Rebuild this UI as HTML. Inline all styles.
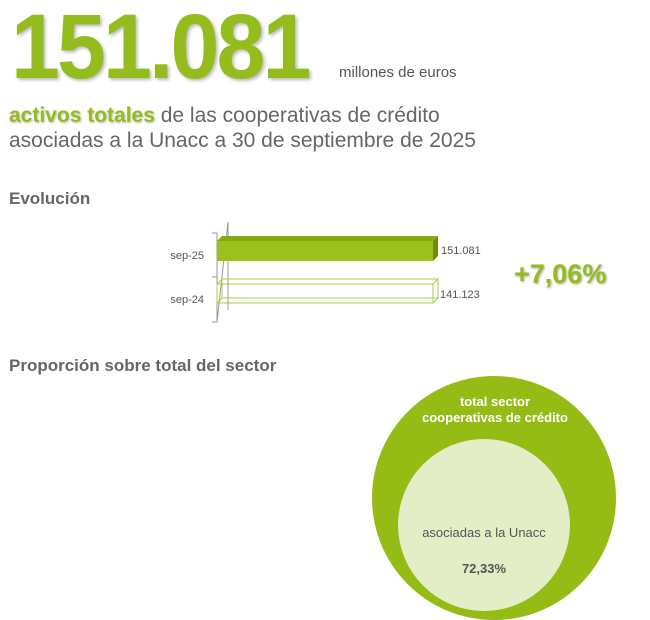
<!DOCTYPE html><html><head><meta charset="utf-8"><style>
body{margin:0;width:650px;height:620px;background:#fff;font-family:"Liberation Sans",sans-serif;position:relative;overflow:hidden}
.a{position:absolute;white-space:nowrap}
</style></head><body>
<div class="a" style="left:11px;top:-5px;font-size:92px;font-weight:bold;color:#93bc1c;letter-spacing:-3px;transform:scaleX(0.955);transform-origin:left;text-shadow:2px 2px 3px #bbb">151.081</div>
<div class="a" style="left:339px;top:64px;font-size:15px;color:#555">millones de euros</div>
<div class="a" style="left:9px;top:103px;font-size:21px;color:#666;line-height:25px"><b style="color:#93bc1c;text-shadow:1px 1px 2px #bbb">activos totales</b> de las cooperativas de crédito<br>asociadas a la Unacc a 30 de septiembre de 2025</div>
<div class="a" style="left:9px;top:189px;font-size:17px;font-weight:bold;color:#666">Evolución</div>
<div class="a" style="left:9px;top:356px;font-size:17px;font-weight:bold;color:#666">Proporción sobre total del sector</div>
<svg class="a" style="left:0;top:0" width="650" height="620">
<g stroke="#999" fill="none" stroke-width="1"><polyline points="212,233 217,233 217,322 212,322"/><line x1="217" y1="322" x2="228" y2="222"/><line x1="228" y1="222" x2="228" y2="310"/><line x1="212" y1="277" x2="217" y2="277"/></g>
<polygon points="217,241 222,236 438,236 433,241" fill="#86a812"/>
<polygon points="433,241 438,236 438,256 433,261" fill="#6f8c0c"/>
<rect x="217" y="241" width="216" height="20" fill="#9bc11c"/>
<g stroke="#a8cc4a" fill="none" stroke-width="1"><rect x="217" y="284" width="216" height="19"/><polyline points="217,284 222,279 438,279 433,284"/><polyline points="433,303 438,298 438,279"/><polyline points="222,279 222,298 217,303"/><line x1="222" y1="298" x2="438" y2="298"/></g>
<text x="204" y="259" font-size="11" fill="#555" text-anchor="end" font-family="Liberation Sans">sep-25</text>
<text x="204" y="303" font-size="11" fill="#555" text-anchor="end" font-family="Liberation Sans">sep-24</text>
<text x="441" y="254" font-size="11" fill="#555" font-family="Liberation Sans">151.081</text>
<text x="440" y="298" font-size="11" fill="#555" font-family="Liberation Sans">141.123</text>
<text x="514" y="283" font-size="27" font-weight="bold" fill="#93bc1c" font-family="Liberation Sans" style="text-shadow:1px 1px 2px #aaa">+7,06%</text>
<circle cx="494" cy="498" r="122" fill="#95bb15"/>
<circle cx="484" cy="525" r="86" fill="#e4eec6"/>
<text x="495" y="406" font-size="13" font-weight="bold" fill="#fff" text-anchor="middle" font-family="Liberation Sans">total sector</text>
<text x="495" y="422" font-size="13" font-weight="bold" fill="#fff" text-anchor="middle" font-family="Liberation Sans">cooperativas de crédito</text>
<text x="484" y="537" font-size="13" fill="#555" text-anchor="middle" font-family="Liberation Sans">asociadas a la Unacc</text>
<text x="484" y="573" font-size="13" font-weight="bold" fill="#555" text-anchor="middle" font-family="Liberation Sans">72,33%</text>
</svg>
</body></html>
